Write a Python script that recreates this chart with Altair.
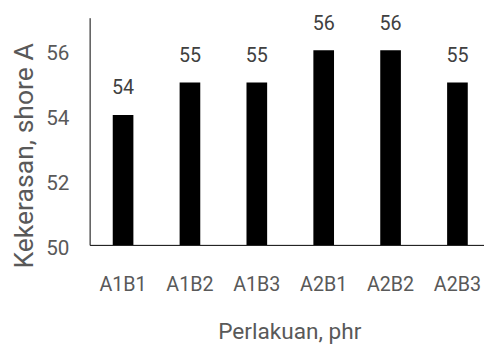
import altair as alt
import pandas as pd

categories = ["A1B1", "A1B2", "A1B3", "A2B1", "A2B2", "A2B3"]
values = [54, 55, 55, 56, 56, 55]

df = pd.DataFrame({"cat": categories, "val": values})

FONT = "Roboto"

x = alt.X("cat:N", sort=categories,
          scale=alt.Scale(range=[0, 408], paddingInner=0, paddingOuter=0),
          axis=alt.Axis(title="Perlakuan, phr", labelAngle=0, ticks=False, tickSize=0,
                        labelPadding=46, labelBaseline="alphabetic",
                        titleBaseline="alphabetic", titleY=95, titleX=203,
                        titleAnchor="middle", titleAlign="center"))
y = alt.Y("val:Q", scale=alt.Scale(domain=[50, 57], nice=False, zero=False),
          axis=alt.Axis(title="Kekerasan, shore A", values=[50, 52, 54, 56],
                        ticks=False, tickSize=0, grid=False, labelPadding=21,
                        labelOffset=4, titleAngle=-90, titleBaseline="middle",
                        titleAlign="center", titleX=-66, titleY=140))

bars = alt.Chart(df).mark_bar(size=21, color="black").encode(
    x=x, y=y, y2=alt.datum(50))
labels = alt.Chart(df).mark_text(baseline="alphabetic", dy=-21, font=FONT,
                                 fontSize=20, color="#404040").encode(
    x=alt.X("cat:N", sort=categories), y="val:Q", text="val:Q")

chart = (bars + labels).properties(
    width=401, height=231,
    autosize=alt.AutoSizeParams(type="none"),
    padding={"left": 83, "top": 7, "right": 0, "bottom": 103},
).configure_view(stroke=None).configure_axis(
    domainColor="black", domainWidth=1, labelFont=FONT, titleFont=FONT,
    labelColor="#595959", titleColor="#595959", labelFontSize=20,
    titleFontSize=23, titleFontWeight="normal", grid=False,
).configure_axisY(labelFontSize=21, titleFontSize=27)

chart.save("out.html", embed_options={"renderer": "svg", "actions": False})
